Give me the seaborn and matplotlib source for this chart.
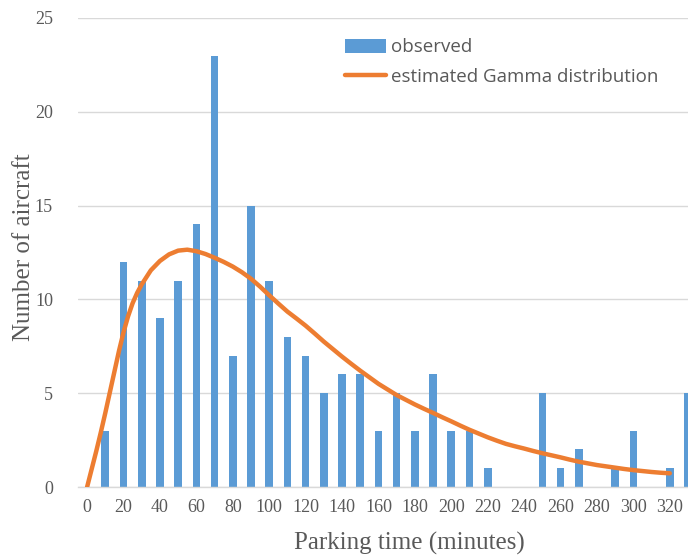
import matplotlib
matplotlib.use("Agg")
import matplotlib.pyplot as plt
import seaborn as sns
import pandas as pd
from matplotlib.patches import Patch
from matplotlib.lines import Line2D

# Observed counts
minutes = [10, 20, 30, 40, 50, 60, 70, 80, 90, 100, 110, 120, 130, 140, 150, 160, 170,
           180, 190, 200, 210, 220, 230, 240, 250, 260, 270, 280, 290, 300, 310, 320, 330]
observed = [3, 12, 11, 9, 11, 14, 23, 7, 15, 11, 8, 7, 5, 6, 6, 3, 5,
            3, 6, 3, 3, 1, 0, 0, 5, 1, 2, 0, 1, 3, 0, 1, 5]

# Estimated Gamma distribution curve
curve_x = [0, 2.5, 5, 7.5, 10, 12.5, 15, 17.5, 20, 22.5, 25, 27.5, 30, 35, 40, 45, 50, 55, 60,
           65, 70, 75, 80, 85, 90, 95, 100, 105, 110, 115, 120, 125, 130, 135, 140, 145, 150,
           155, 160, 165, 170, 175, 180, 185, 190, 195, 200, 205, 210, 215, 220, 225, 230,
           235, 240, 245, 250, 255, 260, 265, 270, 275, 280, 285, 290, 295, 300, 305, 310,
           315, 320]
curve_y = [0, 0.95, 1.9, 2.9, 3.95, 5.05, 6.15, 7.25, 8.25, 9.1, 9.8, 10.35, 10.8, 11.55, 12.05,
           12.4, 12.6, 12.65, 12.57, 12.42, 12.22, 12.0, 11.75, 11.45, 11.1, 10.68, 10.22,
           9.78, 9.35, 8.98, 8.6, 8.18, 7.75, 7.35, 6.95, 6.57, 6.2, 5.85, 5.5, 5.2, 4.9, 4.65,
           4.4, 4.17, 3.95, 3.72, 3.5, 3.27, 3.05, 2.85, 2.65, 2.47, 2.3, 2.17, 2.05, 1.92,
           1.8, 1.69, 1.58, 1.46, 1.35, 1.26, 1.17, 1.1, 1.03, 0.96, 0.9, 0.85, 0.8, 0.76, 0.73]

xticks = list(range(0, 321, 20))
yticks = [0, 5, 10, 15, 20, 25]

bar_color = "#5B9BD5"
line_color = "#ED7D31"
text_gray = "#595959"

sns.set_style("white")
plt.rcParams['font.family'] = ['Liberation Serif', 'DejaVu Sans']

fig = plt.figure(figsize=(6.88, 5.57), dpi=100)
ax = fig.add_axes([78/688, (557-487)/557, 1 - 78/688, (487-18)/557])

df_bar = pd.DataFrame({"minutes": minutes, "observed": observed})
df_line = pd.DataFrame({"minutes": curve_x, "fit": curve_y})

sns.barplot(data=df_bar, x="minutes", y="observed", native_scale=True, width=0.42,
            color=bar_color, saturation=1, ax=ax, zorder=2, linewidth=0)
sns.lineplot(data=df_line, x="minutes", y="fit", color=line_color, linewidth=3.2,
             ax=ax, zorder=3, solid_capstyle="round", solid_joinstyle="round")

ax.set_xlim(-5, 330)
ax.set_ylim(0, 25)
ax.set_xticks(xticks)
ax.set_xticklabels([str(t) for t in xticks])
ax.set_yticks(yticks)
ax.set_yticklabels([str(t) for t in yticks])
ax.yaxis.grid(True, color="#D9D9D9", linewidth=1.0, zorder=0)
ax.set_axisbelow(True)
for s in ["top", "right", "left"]:
    ax.spines[s].set_visible(False)
ax.spines["bottom"].set_color("#D9D9D9")
ax.spines["bottom"].set_linewidth(1.0)
ax.tick_params(axis="both", length=0, labelsize=13, labelcolor=text_gray)
ax.tick_params(axis="x", pad=9)
ax.tick_params(axis="y", pad=18)

ax.set_xlabel("Parking time (minutes)", fontsize=18, color=text_gray)
ax.set_ylabel("Number of aircraft", fontsize=18, color=text_gray)
ax.xaxis.set_label_coords((409-78)/(688-78), -(532-487)/(487-18))
ax.yaxis.set_label_coords(-(78-35)/(688-78), (487-247)/(487-18))

handles = [Patch(facecolor=bar_color, edgecolor="none"),
           Line2D([0], [0], color=line_color, linewidth=3.2, solid_capstyle="round")]
leg = ax.legend(handles, ["observed", "estimated Gamma distribution"],
                loc="upper left", bbox_to_anchor=((337-78)/610, (487-31)/469),
                frameon=False, prop={"family": "Open Sans", "size": 13.5},
                handlelength=2.2, handleheight=0.8, handletextpad=0.3, labelspacing=0.6,
                borderaxespad=0)
for t in leg.get_texts():
    t.set_color(text_gray)

fig.savefig("out.png", dpi=100)
